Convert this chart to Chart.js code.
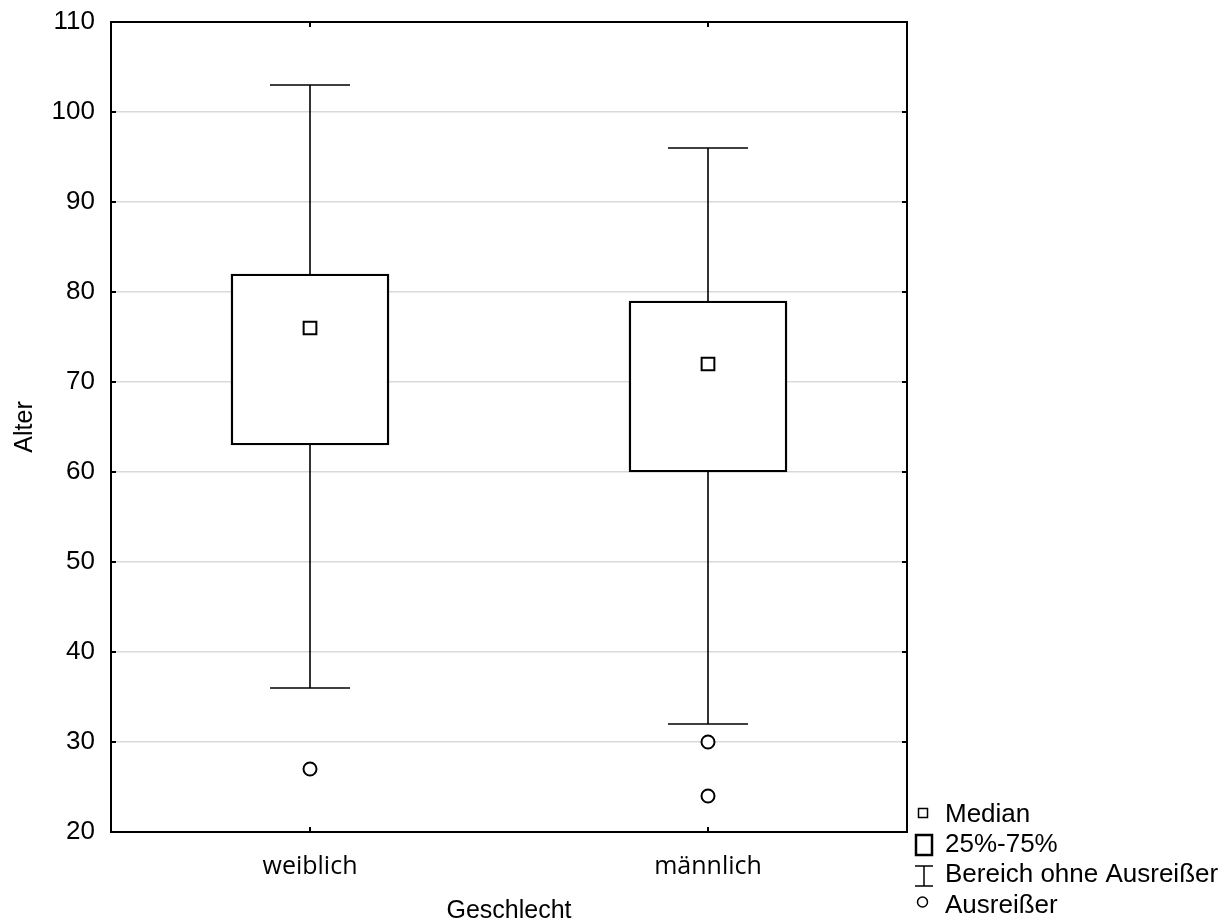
<!DOCTYPE html>
<html>
<head>
<meta charset="utf-8">
<script src="https://cdn.jsdelivr.net/npm/chart.js@4.4.1/dist/chart.umd.min.js"></script>
<style>
html,body{margin:0;padding:0;background:#fff;}
#wrap{position:relative;width:1227px;height:922px;}
</style>
</head>
<body>
<div id="wrap"><canvas id="c" width="1227" height="922"></canvas></div>
<script>
// ---- data ----
const categories = ['weiblich', 'männlich'];
const whiskerLow = [36, 32];
const q1 = [63, 60];
const median = [76, 72];
const q3 = [82, 79];
const whiskerHigh = [103, 96];
const outlierCats = ['weiblich', 'männlich', 'männlich'];
const outlierVals = [27, 30, 24];
const yTicks = [20, 30, 40, 50, 60, 70, 80, 90, 100, 110];
const legendLabels = ['Median', '25%-75%', 'Bereich ohne Ausreißer', 'Ausreißer'];

const FONT = "'Liberation Sans', Arial, sans-serif";

const framePlugin = {
  id: 'frame',
  beforeDatasetsDraw(chart) {
    const ctx = chart.ctx, x = chart.scales.x, y = chart.scales.y;
    ctx.save();
    ctx.strokeStyle = '#000';
    ctx.lineWidth = 1.6;
    categories.forEach((c, i) => {
      const px = x.getPixelForValue(i);
      const lo = y.getPixelForValue(whiskerLow[i]);
      const hi = y.getPixelForValue(whiskerHigh[i]);
      const b1 = y.getPixelForValue(q1[i]);
      const b3 = y.getPixelForValue(q3[i]);
      ctx.beginPath();
      ctx.moveTo(px, lo); ctx.lineTo(px, b1);
      ctx.moveTo(px, b3); ctx.lineTo(px, hi);
      ctx.moveTo(px - 40, lo); ctx.lineTo(px + 40, lo);
      ctx.moveTo(px - 40, hi); ctx.lineTo(px + 40, hi);
      ctx.stroke();
    });
    ctx.restore();
  },
  afterDraw(chart) {
    const ctx = chart.ctx, a = chart.chartArea, x = chart.scales.x, y = chart.scales.y;
    ctx.save();
    ctx.strokeStyle = '#000';
    ctx.lineWidth = 2;
    ctx.strokeRect(a.left, a.top, a.right - a.left, a.bottom - a.top);
    ctx.beginPath();
    yTicks.forEach(v => {
      const py = y.getPixelForValue(v);
      ctx.moveTo(a.left, py); ctx.lineTo(a.left + 5, py);
      ctx.moveTo(a.right, py); ctx.lineTo(a.right - 5, py);
    });
    categories.forEach((c, i) => {
      const px = x.getPixelForValue(i);
      ctx.moveTo(px, a.bottom); ctx.lineTo(px, a.bottom - 5);
      ctx.moveTo(px, a.top); ctx.lineTo(px, a.top + 5);
    });
    ctx.stroke();

    // legend
    ctx.fillStyle = '#000';
    ctx.font = '26px ' + FONT;
    ctx.textBaseline = 'middle';
    ctx.textAlign = 'left';
    const rows = [814, 844, 874, 905];
    legendLabels.forEach((t, i) => ctx.fillText(t, 945, rows[i] + 1));
    ctx.lineWidth = 1.5;
    ctx.strokeRect(918.5, 808.5, 9, 9);
    ctx.lineWidth = 2.5;
    ctx.strokeRect(916, 835, 16, 20);
    ctx.lineWidth = 1.5;
    ctx.beginPath();
    ctx.moveTo(924, 866); ctx.lineTo(924, 886);
    ctx.moveTo(915, 866); ctx.lineTo(933, 866);
    ctx.moveTo(915, 886); ctx.lineTo(933, 886);
    ctx.stroke();
    ctx.beginPath();
    ctx.arc(922.5, 902, 5, 0, Math.PI * 2);
    ctx.stroke();
    ctx.restore();
  }
};

new Chart(document.getElementById('c'), {
  data: {
    labels: categories,
    datasets: [
      {
        type: 'line', label: 'Median',
        data: categories.map((c, i) => ({ x: c, y: median[i] })),
        showLine: false, pointStyle: 'rect', pointRadius: 9,
        pointBorderWidth: 2, pointBorderColor: '#000', pointBackgroundColor: '#fff',
        order: 0
      },
      {
        type: 'line', label: 'Ausreißer',
        data: outlierCats.map((c, i) => ({ x: c, y: outlierVals[i] })),
        showLine: false, pointStyle: 'circle', pointRadius: 6.5,
        pointBorderWidth: 2, pointBorderColor: '#000', pointBackgroundColor: '#fff',
        order: 1
      },
      {
        type: 'bar', label: '25%-75%',
        data: categories.map((c, i) => [q1[i], q3[i]]),
        backgroundColor: '#fff', borderColor: '#000', borderWidth: 2.4,
        borderSkipped: false, barThickness: 158,
        order: 2
      }
    ]
  },
  options: {
    responsive: false,
    animation: false,
    events: [],
    layout: { padding: { top: 22, right: 320, left: 0, bottom: 0 } },
    plugins: { legend: { display: false }, tooltip: { enabled: false } },
    scales: {
      x: {
        type: 'category',
        offset: true,
        grid: { display: false, drawTicks: false },
        border: { display: false },
        ticks: { color: '#000', font: { family: "'Open Sans', sans-serif", size: 25 }, padding: 20 },
        title: { display: true, text: 'Geschlecht', color: '#000', font: { family: FONT, size: 25 }, padding: { top: 0, bottom: -4 } },
        afterFit(s) { s.height = 90; s.paddingLeft = 0; s.paddingRight = 0; }
      },
      y: {
        min: 20, max: 110,
        afterBuildTicks(s) { s.ticks = yTicks.map(v => ({ value: v })); },
        grid: { color: ctx => (ctx.tick && (ctx.tick.value === 20 || ctx.tick.value === 110)) ? 'rgba(0,0,0,0)' : '#d9d9d9', lineWidth: 1.5, drawTicks: false },
        border: { display: false },
        ticks: { color: '#000', font: { family: FONT, size: 26 }, padding: 16 },
        title: { display: true, text: 'Alter', color: '#000', font: { family: FONT, size: 25 }, padding: { top: 10, bottom: 0 } },
        afterFit(s) { s.width = 111; s.paddingTop = 0; s.paddingBottom = 0; }
      }
    }
  },
  plugins: [framePlugin]
});
</script>
</body>
</html>
